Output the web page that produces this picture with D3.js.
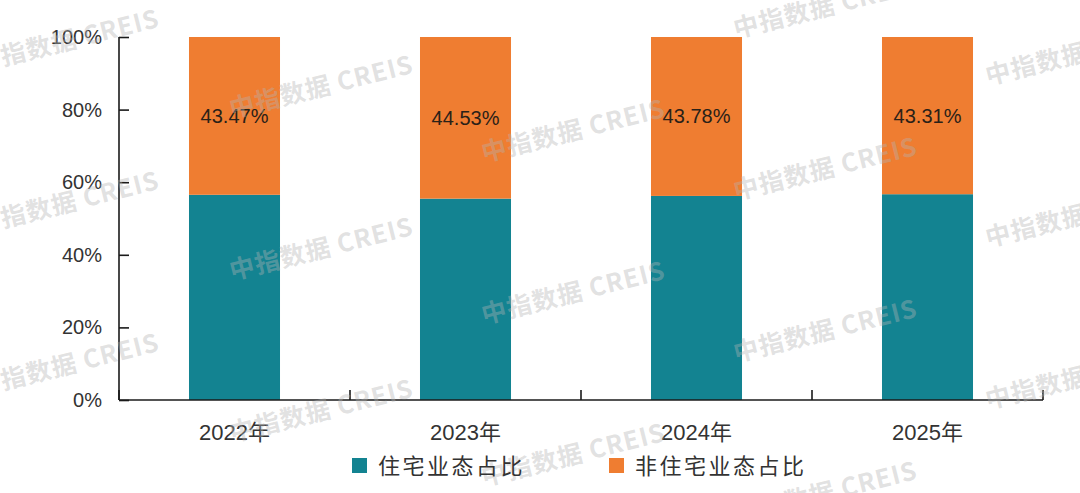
<!DOCTYPE html>
<html>
<head>
<meta charset="utf-8">
<script src="https://cdn.jsdelivr.net/npm/d3@7"></script>
<style>
  body { margin: 0; background: #fff; }
  svg text { font-family: "Liberation Sans", "Noto Sans CJK SC", sans-serif; }
</style>
</head>
<body>
<div id="chart"></div>
<script>
// data
const years = ["2022年", "2023年", "2024年", "2025年"];
const residential = [56.53, 55.47, 56.22, 56.69];
const nonResidential = [43.47, 44.53, 43.78, 43.31];
const seriesNames = ["住宅业态占比", "非住宅业态占比"];
const yTicks = [0, 20, 40, 60, 80, 100];

const colors = ["#138391", "#ef7d31"];

const width = 1080, height = 493;
const margin = {top: 37, right: 37, bottom: 93, left: 119};
const innerW = width - margin.left - margin.right;
const innerH = height - margin.top - margin.bottom;

const svg = d3.select("#chart").append("svg")
    .attr("width", width)
    .attr("height", height);

const g = svg.append("g")
    .attr("transform", `translate(${margin.left},${margin.top})`);

// scales
const pad = 0.606;
const x = d3.scaleBand()
    .domain(years)
    .range([0, innerW])
    .paddingInner(pad)
    .paddingOuter(pad / 2);

const y = d3.scaleLinear()
    .domain([0, 100])
    .range([innerH, 0]);

// stacked rows
const rows = years.map((yr, i) => ({year: yr, res: residential[i], non: nonResidential[i]}));
const stack = d3.stack().keys(["res", "non"])(rows);

g.selectAll("g.layer")
    .data(stack)
    .join("g")
    .attr("class", "layer")
    .attr("fill", (d, i) => colors[i])
    .selectAll("rect")
    .data(d => d)
    .join("rect")
    .attr("x", d => x(d.data.year))
    .attr("width", x.bandwidth())
    .attr("y", d => y(d[1]))
    .attr("height", d => y(d[0]) - y(d[1]));

// value labels on the non-residential part
g.selectAll("text.val")
    .data(stack[1])
    .join("text")
    .attr("class", "val")
    .attr("x", d => x(d.data.year) + x.bandwidth() / 2)
    .attr("y", d => (y(d[0]) + y(d[1])) / 2)
    .attr("dy", "0.35em")
    .attr("text-anchor", "middle")
    .attr("font-size", 20)
    .attr("fill", "#2a2118")
    .text(d => d.data.non.toFixed(2) + "%");

// watermark
const wmCols = [[-22, 72], [232, 118], [484, 162], [736, 200], [988, 85]];
const wm = svg.append("g").attr("pointer-events", "none");
wmCols.forEach(([wx, wy]) => {
    for (let yy = wy - 162; yy < height + 50; yy += 162) {
        if (yy < 0) continue;
        wm.append("text")
            .attr("transform", `translate(${wx},${yy}) rotate(-14)`)
            .attr("font-size", 25)
            .attr("font-weight", "bold")
            .attr("letter-spacing", 1)
            .attr("fill", "#b4b4b4")
            .attr("fill-opacity", 0.4)
            .style("font-family", "'Noto Sans CJK SC', sans-serif")
            .text("中指数据 CREIS");
    }
});

// axes
const yAxis = g.append("g")
    .call(d3.axisLeft(y)
        .tickValues(yTicks)
        .tickSize(-10)
        .tickPadding(17)
        .tickFormat(d => d + "%"));
yAxis.select(".domain").attr("stroke", "#1a1a1a").attr("stroke-width", 1.6)
    .attr("d", `M0,${innerH}V0`);
yAxis.selectAll(".tick line").attr("stroke", "#1a1a1a").attr("stroke-width", 1.6);
yAxis.selectAll(".tick text")
    .attr("font-size", 20)
    .attr("fill", "#333")
    .attr("x", -17);

const xAxis = g.append("g")
    .attr("transform", `translate(0,${innerH})`)
    .call(d3.axisBottom(x).tickSize(0).tickPadding(24));
xAxis.select(".domain").attr("stroke", "#1a1a1a").attr("stroke-width", 1.6)
    .attr("d", `M0,0H${innerW}`);
xAxis.selectAll(".tick text")
    .attr("font-size", 22)
    .attr("fill", "#333");

// category boundary ticks
const step = x.step();
g.append("g")
    .selectAll("line")
    .data(d3.range(years.length + 1))
    .join("line")
    .attr("x1", d => d * step)
    .attr("x2", d => d * step)
    .attr("y1", innerH)
    .attr("y2", innerH - 10)
    .attr("stroke", "#1a1a1a")
    .attr("stroke-width", 1.6);

// legend
const legendX = [352, 609];
const legend = svg.append("g");
seriesNames.forEach((name, i) => {
    legend.append("rect")
        .attr("x", legendX[i])
        .attr("y", 458)
        .attr("width", 15)
        .attr("height", 15)
        .attr("fill", colors[i]);
    legend.append("text")
        .attr("x", legendX[i] + 26)
        .attr("y", 466)
        .attr("dy", "0.35em")
        .attr("font-size", 22)
        .attr("letter-spacing", 2.5)
        .attr("fill", "#333")
        .text(name);
});
</script>
</body>
</html>
